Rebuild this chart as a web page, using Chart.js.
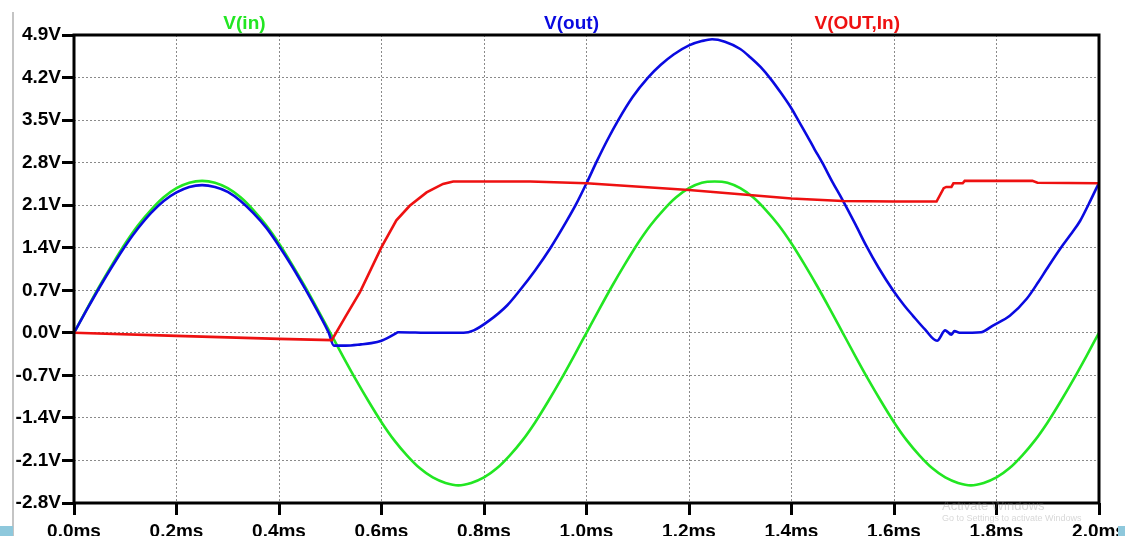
<!DOCTYPE html>
<html>
<head>
<meta charset="utf-8">
<script src="https://cdn.jsdelivr.net/npm/chart.js@4.4.1/dist/chart.umd.min.js"></script>
<style>
  html, body { margin: 0; padding: 0; background: #fff; overflow: hidden; }
  #wrap { position: relative; width: 1125px; height: 536px; }
</style>
</head>
<body>
<div id="wrap"><canvas id="plot" width="1125" height="536"></canvas></div>
<script>
// 축 눈금
const xTicks = [0, 0.2, 0.4, 0.6, 0.8, 1.0, 1.2, 1.4, 1.6, 1.8, 2.0];
const yTicks = [-2.8, -2.1, -1.4, -0.7, 0, 0.7, 1.4, 2.1, 2.8, 3.5, 4.2, 4.9];

// 트레이스 이름 / 색
const traceNames = ["V(in)", "V(out)", "V(OUT,In)"];
const traceColors = ["#22e622", "#0a0ae0", "#ee1111"];

// V(in) - 시간(ms), 전압(V)
const inT = [
  0, 0.025, 0.05, 0.075, 0.1, 0.125, 0.15, 0.175, 0.2, 0.225,
  0.25, 0.275, 0.3, 0.325, 0.35, 0.375, 0.4, 0.425, 0.45, 0.475,
  0.5, 0.525, 0.55, 0.575, 0.6, 0.625, 0.65, 0.675, 0.7, 0.725,
  0.75, 0.775, 0.8, 0.825, 0.85, 0.875, 0.9, 0.925, 0.95, 0.975,
  1.0, 1.025, 1.05, 1.075, 1.1, 1.125, 1.15, 1.175, 1.2, 1.225,
  1.25, 1.275, 1.3, 1.325, 1.35, 1.375, 1.4, 1.425, 1.45, 1.475,
  1.5, 1.525, 1.55, 1.575, 1.6, 1.625, 1.65, 1.675, 1.7, 1.725,
  1.75, 1.775, 1.8, 1.825, 1.85, 1.875, 1.9, 1.925, 1.95, 1.975, 2.0
];
const inV = [
  0, 0.39, 0.77, 1.13, 1.47, 1.77, 2.02, 2.23, 2.38, 2.47,
  2.50, 2.47, 2.38, 2.23, 2.02, 1.77, 1.47, 1.13, 0.77, 0.39,
  0, -0.39, -0.77, -1.13, -1.47, -1.77, -2.02, -2.23, -2.38, -2.47,
  -2.51, -2.47, -2.38, -2.23, -2.02, -1.77, -1.47, -1.13, -0.77, -0.39,
  0, 0.39, 0.77, 1.13, 1.47, 1.77, 2.02, 2.23, 2.38, 2.47,
  2.49, 2.47, 2.38, 2.23, 2.02, 1.77, 1.47, 1.13, 0.77, 0.39,
  0, -0.39, -0.77, -1.13, -1.47, -1.77, -2.02, -2.23, -2.38, -2.47,
  -2.51, -2.47, -2.38, -2.23, -2.02, -1.77, -1.47, -1.13, -0.77, -0.39, 0
];

// V(out)
const outT = [
  0, 0.025, 0.05, 0.075, 0.1, 0.125, 0.15, 0.175, 0.2, 0.225,
  0.25, 0.275, 0.3, 0.325, 0.35, 0.375, 0.4, 0.425, 0.45, 0.475,
  0.497, 0.507, 0.53, 0.56, 0.58, 0.6, 0.615, 0.628, 0.632, 0.7,
  0.76, 0.78, 0.81, 0.845, 0.87, 0.9, 0.93, 0.96, 0.98, 1.0,
  1.02, 1.04, 1.062, 1.09, 1.12, 1.145, 1.17, 1.2, 1.225, 1.245,
  1.27, 1.3, 1.32, 1.34, 1.36, 1.38, 1.4, 1.413, 1.43, 1.445,
  1.46, 1.48, 1.5, 1.525, 1.546, 1.57, 1.598, 1.62, 1.637, 1.66,
  1.684, 1.7, 1.712, 1.718, 1.728, 1.77, 1.793, 1.826, 1.859, 1.882,
  1.898, 1.924, 1.945, 1.963, 1.98, 2.0
];
const outV = [
  0, 0.38, 0.75, 1.1, 1.43, 1.72, 1.97, 2.17, 2.31, 2.4,
  2.43, 2.4, 2.32, 2.17, 1.97, 1.73, 1.43, 1.1, 0.74, 0.36,
  0.0, -0.21, -0.21, -0.19, -0.17, -0.13, -0.07, -0.01, 0.01, 0.0,
  0.0, 0.04, 0.2, 0.45, 0.7, 1.03, 1.4, 1.82, 2.12, 2.46,
  2.82, 3.16, 3.5, 3.88, 4.2, 4.41, 4.58, 4.73, 4.8, 4.83,
  4.79, 4.67, 4.53, 4.37, 4.17, 3.94, 3.69, 3.5, 3.25, 3.02,
  2.8, 2.48, 2.18, 1.78, 1.43, 1.07, 0.7, 0.45, 0.28, 0.06,
  -0.13, 0.04, -0.03, 0.03, 0.0, 0.01, 0.12, 0.28, 0.56, 0.84,
  1.05, 1.38, 1.62, 1.84, 2.12, 2.47
];

// V(OUT,In)
const diffT = [
  0, 0.2, 0.4, 0.503, 0.53, 0.558, 0.6, 0.629, 0.655, 0.688,
  0.72, 0.74, 0.89, 1.0, 1.2, 1.3, 1.4, 1.5, 1.6, 1.683,
  1.697, 1.702, 1.712, 1.716, 1.734, 1.738, 1.87, 1.88, 2.0
];
const diffV = [
  0, -0.05, -0.1, -0.12, 0.27, 0.67, 1.41, 1.85, 2.09, 2.31,
  2.45, 2.49, 2.49, 2.46, 2.35, 2.28, 2.21, 2.17, 2.16, 2.16,
  2.38, 2.4, 2.4, 2.46, 2.46, 2.5, 2.5, 2.47, 2.46
];

const toPts = (ts, vs) => ts.map((t, i) => ({ x: t, y: vs[i] }));

const FONT = '"Liberation Sans", Arial, sans-serif';

// 트레이스 이름, 외곽선, 화면 가장자리
const decorPlugin = {
  id: "decor",
  afterDatasetsDraw(chart) {
    const { ctx, chartArea: a } = chart;
    ctx.save();
    ctx.lineWidth = 3;
    ctx.strokeStyle = "#000";
    ctx.strokeRect(a.left, a.top, a.right - a.left, a.bottom - a.top);
    ctx.restore();
  },
  afterDraw(chart) {
    const { ctx, chartArea: a } = chart;
    const w = a.right - a.left;
    const namePos = [0.1663, 0.4854, 0.7642];
    ctx.save();
    ctx.font = "bold 19px " + FONT;
    ctx.textAlign = "center";
    ctx.textBaseline = "alphabetic";
    traceNames.forEach((n, i) => {
      ctx.fillStyle = traceColors[i];
      ctx.fillText(n, a.left + namePos[i] * w, 29);
    });

    // 윈도우 워터마크
    ctx.textAlign = "left";
    ctx.fillStyle = "rgba(140,140,140,0.35)";
    ctx.font = "13px " + FONT;
    ctx.fillText("Activate Windows", 942, 510);
    ctx.font = "9px " + FONT;
    ctx.fillText("Go to Settings to activate Windows", 942, 521);

    // 창 테두리
    ctx.fillStyle = "#c4c4c4";
    ctx.fillRect(12, 12, 2, 524);
    ctx.fillStyle = "#8ec8dc";
    ctx.fillRect(0, 526, 13, 10);
    ctx.fillRect(1118, 526, 7, 10);
    ctx.restore();
  },
};

const tickFont = { family: FONT, size: 19, weight: "bold" };
const gridOpts = {
  color: "#8a8a8a",
  lineWidth: 1,
  tickColor: "#000",
  tickWidth: 3,
  tickLength: 12,
};

new Chart(document.getElementById("plot").getContext("2d"), {
  type: "line",
  data: {
    datasets: [
      {
        label: traceNames[0],
        data: toPts(inT, inV),
        borderColor: traceColors[0],
        borderWidth: 2.6,
        pointRadius: 0,
        cubicInterpolationMode: "monotone",
        order: 3,
      },
      {
        label: traceNames[1],
        data: toPts(outT, outV),
        borderColor: traceColors[1],
        borderWidth: 2.6,
        pointRadius: 0,
        cubicInterpolationMode: "monotone",
        order: 2,
      },
      {
        label: traceNames[2],
        data: toPts(diffT, diffV),
        borderColor: traceColors[2],
        borderWidth: 2.6,
        pointRadius: 0,
        tension: 0,
        order: 1,
      },
    ],
  },
  options: {
    responsive: false,
    animation: false,
    devicePixelRatio: 1,
    layout: { padding: { top: 35, right: 26, left: 0, bottom: 0 } },
    plugins: { legend: { display: false }, tooltip: { enabled: false } },
    scales: {
      x: {
        type: "linear",
        min: 0,
        max: 2.0,
        afterBuildTicks: (s) => { s.ticks = xTicks.map((v) => ({ value: v })); },
        afterFit: (s) => { s.height = 33; s.paddingLeft = 0; s.paddingRight = 0; },
        ticks: {
          callback: (v) => v.toFixed(1) + "ms",
          font: tickFont,
          color: "#000",
          padding: 5,
          maxRotation: 0,
          autoSkip: false,
        },
        grid: gridOpts,
        border: { display: false, dash: [2, 2] },
      },
      y: {
        type: "linear",
        min: -2.8,
        max: 4.9,
        afterBuildTicks: (s) => { s.ticks = yTicks.map((v) => ({ value: v })); },
        afterFit: (s) => { s.width = 74; },
        ticks: {
          callback: (v) => v.toFixed(1) + "V",
          font: tickFont,
          color: "#000",
          padding: 1,
          autoSkip: false,
        },
        grid: gridOpts,
        border: { display: false, dash: [2, 2] },
      },
    },
  },
  plugins: [decorPlugin],
});
</script>
</body>
</html>
